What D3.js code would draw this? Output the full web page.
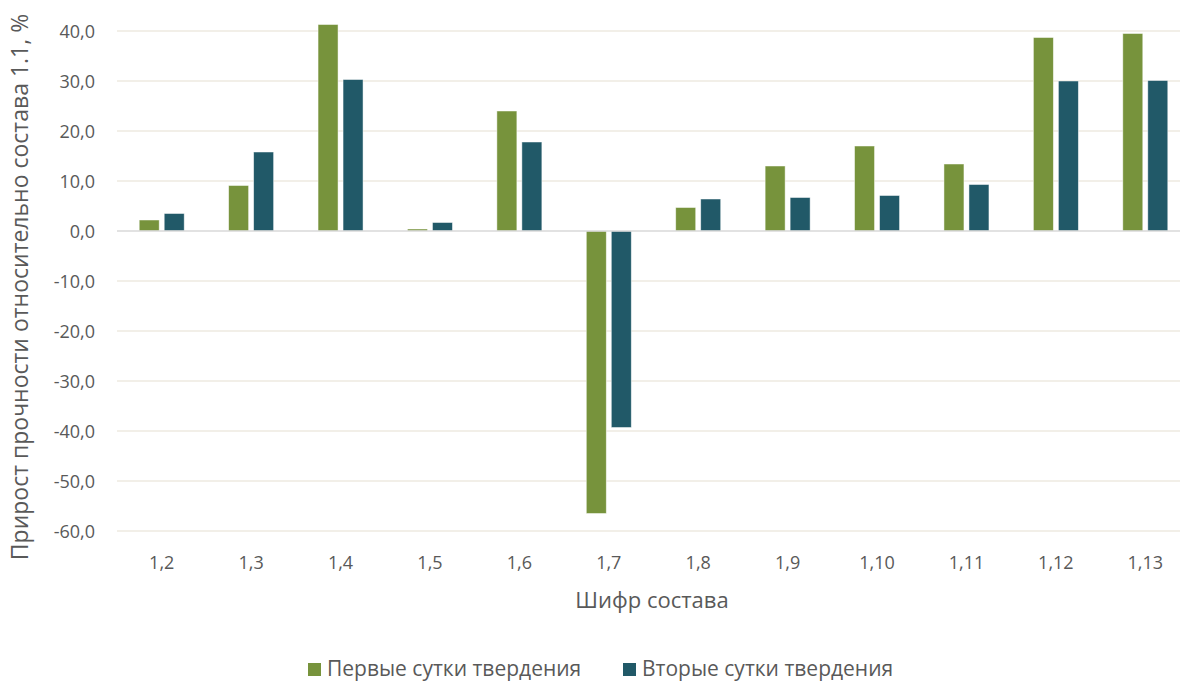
<!DOCTYPE html>
<html>
<head>
<meta charset="utf-8">
<script src="https://cdn.jsdelivr.net/npm/d3@7"></script>
<style>
  html, body { margin: 0; padding: 0; background: #fff; }
  svg { display: block; }
  text { font-family: "Open Sans", "Noto Sans", sans-serif; fill: #595959; }
</style>
</head>
<body>
<svg id="chart" width="1180" height="682"></svg>
<script>
// Composition codes and strength gain vs. composition 1.1 (%)
const categories = ["1,2", "1,3", "1,4", "1,5", "1,6", "1,7", "1,8", "1,9", "1,10", "1,11", "1,12", "1,13"];
const firstDay  = [2.2, 9.1, 41.3, 0.4, 24.0, -56.5, 4.7, 13.0, 17.0, 13.4, 38.7, 39.5];
const secondDay = [3.5, 15.8, 30.3, 1.7, 17.8, -39.3, 6.4, 6.7, 7.1, 9.3, 30.0, 30.1];
const seriesNames = ["Первые сутки твердения", "Вторые сутки твердения"];
const seriesColors = ["#77933c", "#215968"];
const yTicks = [40, 30, 20, 10, 0, -10, -20, -30, -40, -50, -60];

const svg = d3.select("#chart");
const plot = { left: 117, right: 1190, top: 31, bottom: 531 };

const x = d3.scaleBand().domain(categories).range([plot.left, plot.right]);
const y = d3.scaleLinear().domain([-60, 40]).range([plot.bottom, plot.top]);
const barW = 20, gap = 5;

// horizontal gridlines
svg.append("g").selectAll("line").data(yTicks.filter(d => d !== 0)).join("line")
  .attr("x1", plot.left).attr("x2", plot.right)
  .attr("y1", d => y(d)).attr("y2", d => y(d))
  .attr("stroke", "#eeeae0").attr("stroke-width", 1.4);

// y axis labels
const fmt = d => d.toFixed(1).replace(".", ",");
const yAxis = d3.axisLeft(y).tickValues(yTicks).tickFormat(fmt).tickSize(0).tickPadding(0);
const gy = svg.append("g").attr("transform", `translate(95,0)`).call(yAxis);
gy.select(".domain").remove();
gy.selectAll("text").style("font-size", "18px").attr("fill", "#595959").attr("dy", "0.36em");

// bars
const series = [firstDay, secondDay];
series.forEach((vals, si) => {
  svg.append("g").selectAll("rect").data(vals).join("rect")
    .attr("x", (d, i) => x(categories[i]) + x.bandwidth() / 2 - barW - gap / 2 + si * (barW + gap))
    .attr("y", d => y(Math.max(0, d)))
    .attr("width", barW)
    .attr("height", d => Math.abs(y(d) - y(0)))
    .attr("fill", seriesColors[si])
    .attr("stroke", "#ffffff").attr("stroke-opacity", 0.6).attr("stroke-width", 0.8);
});

// zero line
svg.append("line")
  .attr("x1", plot.left).attr("x2", plot.right)
  .attr("y1", y(0)).attr("y2", y(0))
  .attr("stroke", "#d9d9d9").attr("stroke-width", 1.6);

// x axis labels
const xAxis = d3.axisBottom(x).tickSize(0).tickPadding(0);
const gx = svg.append("g").attr("transform", `translate(0,569)`).call(xAxis);
gx.select(".domain").remove();
gx.selectAll("text").style("font-size", "18px").attr("fill", "#595959").attr("dy", "0");

// axis titles
svg.append("text").attr("x", 652).attr("y", 608).attr("text-anchor", "middle")
  .style("font-size", "22px").text("Шифр состава");
svg.append("text").attr("transform", "translate(28,287) rotate(-90)").attr("text-anchor", "middle")
  .style("font-size", "23px").text("Прирост прочности относительно состава 1.1, %");

// legend
const legendX = [308, 623];
const lg = svg.append("g").selectAll("g").data(seriesNames).join("g")
  .attr("transform", (d, i) => `translate(${legendX[i]},663)`);
lg.append("rect").attr("width", 13).attr("height", 13).attr("fill", (d, i) => seriesColors[i]);
lg.append("text").attr("x", 19).attr("y", 13).style("font-size", "21px").text(d => d);
</script>
</body>
</html>
